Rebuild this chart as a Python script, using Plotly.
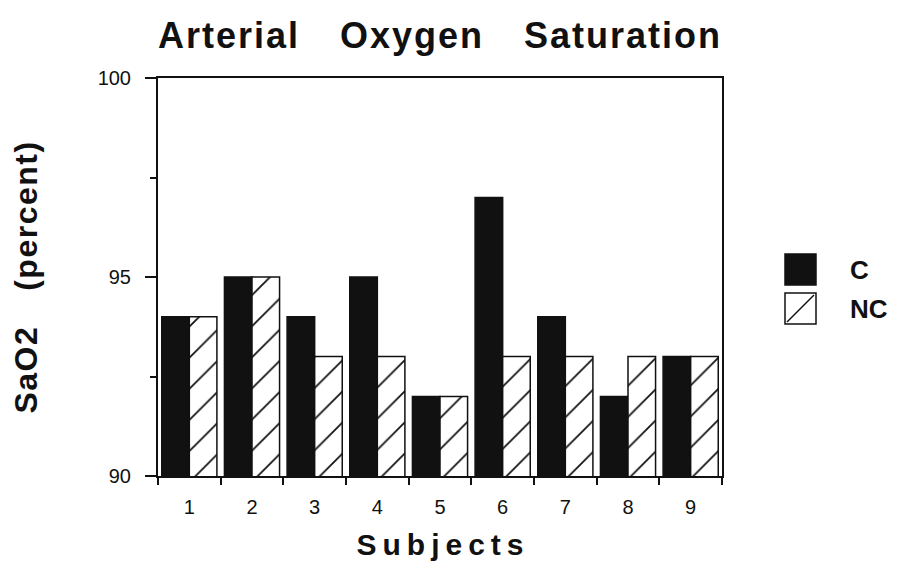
import plotly.graph_objects as go

subjects = ["1", "2", "3", "4", "5", "6", "7", "8", "9"]
c_values = [94, 95, 94, 95, 92, 97, 94, 92, 93]
nc_values = [94, 95, 93, 93, 92, 93, 93, 93, 93]
series_names = ["C", "NC"]
y_ticks = [90, 95, 100]

FONT = "Liberation Sans, Arial, sans-serif"
INK = "#111111"

fig = go.Figure()
fig.add_trace(go.Bar(
    x=subjects, y=c_values, name=series_names[0],
    marker=dict(color=INK, line=dict(color=INK, width=1.5)),
    showlegend=False,
))
fig.add_trace(go.Bar(
    x=subjects, y=nc_values, name=series_names[1],
    marker=dict(color="white", line=dict(color=INK, width=1.5),
                pattern=dict(shape="/", fgcolor=INK, bgcolor="white",
                             size=22, solidity=0.08, fillmode="replace")),
    showlegend=False,
))

fig.update_layout(
    width=897, height=567,
    margin=dict(l=158, r=175, t=78, b=91),
    paper_bgcolor="white", plot_bgcolor="white",
    barmode="group", bargap=0.12, bargroupgap=0,
    font=dict(family=FONT, color=INK),
    title=dict(text="Arterial\u2002\u2002Oxygen\u2002\u2002Saturation",
               x=0.5, xref="paper", xanchor="center",
               y=1 - 35 / 567, yref="container", yanchor="middle",
               font=dict(family=FONT, size=36, color=INK, weight="bold")),
)

fig.update_xaxes(
    type="category", range=[-0.5, 8.5],
    showline=True, linecolor=INK, linewidth=2, mirror=True,
    ticks="outside", tickson="boundaries", ticklen=7, tickwidth=2, tickcolor=INK,
    tickfont=dict(size=20, family=FONT, color=INK),
    ticklabelstandoff=12,
    showgrid=False, zeroline=False,
    title=dict(text="S\u2009u\u2009b\u2009j\u2009e\u2009c\u2009t\u2009s",
               font=dict(size=30, family=FONT, color=INK, weight="bold"),
               standoff=17),
)
fig.update_yaxes(
    range=[90, 100], tickvals=y_ticks, ticktext=[str(v) for v in y_ticks],
    showline=True, linecolor=INK, linewidth=2, mirror=True,
    ticks="outside", ticklen=11, tickwidth=2, tickcolor=INK,
    minor=dict(dtick=2.5, tick0=90, ticks="outside", ticklen=6, tickwidth=2,
               tickcolor=INK, showgrid=False),
    tickfont=dict(size=20, family=FONT, color=INK),
    ticklabelstandoff=10,
    showgrid=False, zeroline=False,
    title=dict(text="SaO2\u2002\u2002(percent)",
               font=dict(size=32, family=FONT, color=INK, weight="bold"),
               standoff=50),
)

# Manual legend (large swatches as in the reference)
W, H = 564, 398
def px(x):
    return (x - 158) / W
def py(y):
    return (476 - y) / H

fig.add_shape(type="rect", xref="paper", yref="paper",
              x0=px(785), x1=px(816), y0=py(285), y1=py(254),
              fillcolor=INK, line=dict(color=INK, width=1.5))
fig.add_shape(type="rect", xref="paper", yref="paper",
              x0=px(785), x1=px(816), y0=py(324), y1=py(293),
              fillcolor="white", line=dict(color=INK, width=1.5))
fig.add_shape(type="line", xref="paper", yref="paper",
              x0=px(787), x1=px(814), y0=py(322), y1=py(295),
              line=dict(color=INK, width=1.5))
fig.add_annotation(text=series_names[0], xref="paper", yref="paper", x=px(848), y=py(270),
                   xanchor="left", yanchor="middle", showarrow=False,
                   font=dict(size=26, family=FONT, color=INK, weight="bold"))
fig.add_annotation(text=series_names[1], xref="paper", yref="paper", x=px(848), y=py(309),
                   xanchor="left", yanchor="middle", showarrow=False,
                   font=dict(size=26, family=FONT, color=INK, weight="bold"))

post = (
    "document.body.style.margin='0';"
    "document.body.style.overflow='hidden';"
    "document.querySelectorAll('.gtitle').forEach(function(e){e.style.letterSpacing='2px';});"
    "document.querySelectorAll('.ytitle').forEach(function(e){e.style.letterSpacing='1.5px';});"
)

fig.write_html("out.html", post_script=post, config={"displayModeBar": False})
